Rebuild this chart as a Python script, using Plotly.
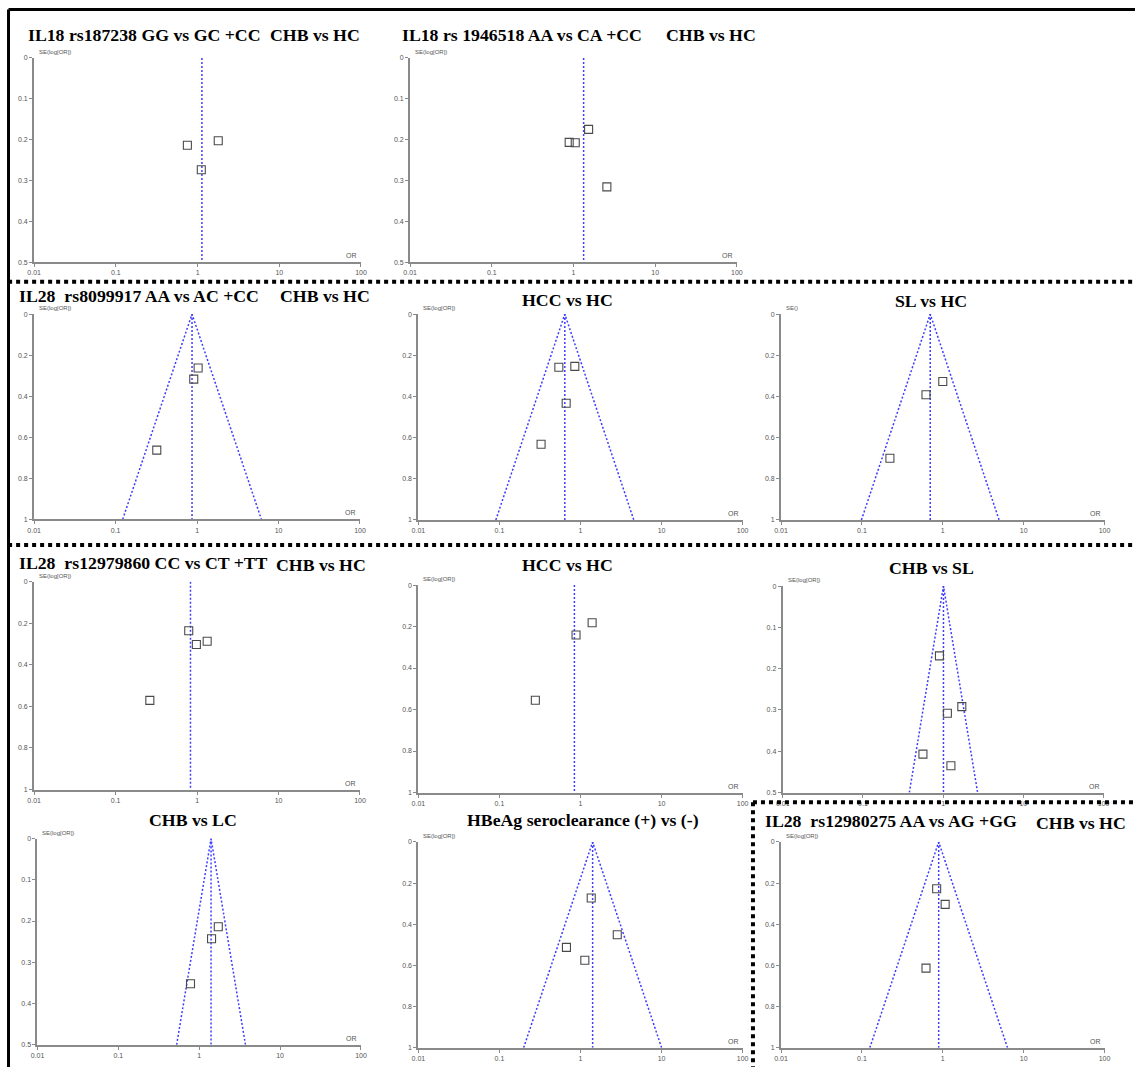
import math
import plotly.graph_objects as go

# The photographed page is the html page scaled down slightly;
# target positions below are given in picture pixels and converted back.
W, H = 1135, 1067
SX = 1135 / 1151
SY = 1067 / 1075
OFFX = 8
OFFY = 4.5

# ---------------- data ----------------
p1_or = [0.75, 1.79, 1.11]
p1_se = [0.214, 0.203, 0.274]
p1_pooled = 1.13

p2_or = [0.885, 1.05, 1.53, 2.56]
p2_se = [0.207, 0.208, 0.175, 0.316]
p2_pooled = 1.33

p3_or = [1.03, 0.91, 0.32]
p3_se = [0.263, 0.317, 0.663]
p3_pooled = 0.867

p4_or = [0.54, 0.85, 0.665, 0.326]
p4_se = [0.258, 0.254, 0.433, 0.632]
p4_pooled = 0.64

p5_or = [1.0, 0.62, 0.222]
p5_se = [0.327, 0.392, 0.70]
p5_pooled = 0.70

p6_or = [0.79, 0.98, 1.33, 0.263]
p6_se = [0.236, 0.302, 0.286, 0.571]
p6_pooled = 0.83

p7_or = [0.88, 1.39, 0.277]
p7_se = [0.241, 0.182, 0.555]
p7_pooled = 0.84

p8_or = [0.90, 1.71, 1.13, 0.56, 1.25]
p8_se = [0.169, 0.292, 0.308, 0.407, 0.435]
p8_pooled = 1.01

p9_or = [1.72, 1.42, 0.78]
p9_se = [0.214, 0.243, 0.352]
p9_pooled = 1.40

p10_or = [1.355, 2.84, 0.67, 1.13]
p10_se = [0.272, 0.451, 0.512, 0.575]
p10_pooled = 1.41

p11_or = [0.84, 1.07, 0.62]
p11_se = [0.227, 0.303, 0.613]
p11_pooled = 0.89

x_tick_vals = [0.01, 0.1, 1, 10, 100]
x_tick_text = ["0.01", "0.1", "1", "10", "100"]
y_ticks_half = [0, 0.1, 0.2, 0.3, 0.4, 0.5]
y_ticks_full = [0, 0.2, 0.4, 0.6, 0.8, 1]

se_max = [0.5, 0.5, 1, 1, 1, 1, 1, 0.5, 0.5, 1, 1]
has_funnel = [False, False, True, True, True, False, False, True, True, True, True]
y_titles = ["SE(log[OR])"] * 4 + ["SE()"] + ["SE(log[OR])"] * 6

# ---------------- layout (picture-pixel boxes of each panel) ----------------
boxes = [
    (35, 361, 58.3, 262.3),
    (410, 736, 58.3, 262.3),
    (35, 360, 314.3, 519.3),
    (418.3, 741.7, 314.3, 520),
    (780, 1102.7, 314.3, 520),
    (35, 360, 581.7, 789.3),
    (418.3, 741.7, 585, 792.3),
    (781.7, 1101.7, 586, 792.3),
    (38.3, 361, 838.3, 1044.3),
    (418.3, 741.7, 841.7, 1047.3),
    (780, 1102.7, 841.7, 1047.3),
]

ors = [p1_or, p2_or, p3_or, p4_or, p5_or, p6_or, p7_or, p8_or, p9_or, p10_or, p11_or]
ses = [p1_se, p2_se, p3_se, p4_se, p5_se, p6_se, p7_se, p8_se, p9_se, p10_se, p11_se]
pooled = [p1_pooled, p2_pooled, p3_pooled, p4_pooled, p5_pooled, p6_pooled,
          p7_pooled, p8_pooled, p9_pooled, p10_pooled, p11_pooled]


def px(x):
    return (x / SX - OFFX) / W


def py(y):
    return 1 - (y / SY - OFFY) / H


fig = go.Figure()
BLUE = "#3d3dff"
annotations = []

for i in range(11):
    n = "" if i == 0 else str(i + 1)
    xa, ya = "x" + n, "y" + n
    x0, x1, y0, y1 = boxes[i]
    m = se_max[i]
    p = pooled[i]
    # pooled estimate line
    fig.add_trace(go.Scatter(x=[p, p], y=[0, m], mode="lines",
                             line=dict(color=BLUE, width=1.5, dash="2px,2px"),
                             xaxis=xa, yaxis=ya, showlegend=False, hoverinfo="skip"))
    if has_funnel[i]:
        lo = p * math.exp(-1.96 * m)
        hi = p * math.exp(1.96 * m)
        fig.add_trace(go.Scatter(x=[lo, p, hi], y=[m, 0, m], mode="lines",
                                 line=dict(color=BLUE, width=1.5, dash="2px,2px"),
                                 xaxis=xa, yaxis=ya, showlegend=False, hoverinfo="skip"))
    fig.add_trace(go.Scatter(x=ors[i], y=ses[i], mode="markers",
                             marker=dict(symbol="square-open", size=8, color="#4a4a4a",
                                         line=dict(width=1.1, color="#4a4a4a")),
                             xaxis=xa, yaxis=ya, showlegend=False))
    axis_common = dict(showgrid=False, zeroline=False, showline=True, linecolor="#8a8a8a",
                       linewidth=2, ticks="outside", ticklen=3, tickwidth=1,
                       tickcolor="#8a8a8a", tickfont=dict(size=7, color="#555555",
                                                          family="Liberation Sans"))
    yt = y_ticks_half if m == 0.5 else y_ticks_full
    fig.layout["xaxis" + n] = dict(type="log", range=[-2, 2], domain=[px(x0), px(x1)],
                                   anchor=ya, tickvals=x_tick_vals, ticktext=x_tick_text,
                                   **axis_common)
    fig.layout["yaxis" + n] = dict(range=[m, 0], autorange=False,
                                   domain=[py(y1), py(y0)], anchor=xa,
                                   tickvals=yt, ticktext=[("%g" % v) for v in yt],
                                   **axis_common)
    annotations.append(dict(text=y_titles[i], xref=xa + " domain", yref=ya + " domain",
                            x=0, y=1, xshift=3, yshift=1, xanchor="left", yanchor="bottom",
                            showarrow=False, font=dict(size=6, color="#555555",
                                                       family="Liberation Sans")))
    annotations.append(dict(text="OR", xref=xa + " domain", yref=ya + " domain",
                            x=1, y=0, xshift=-2, yshift=1, xanchor="right", yanchor="bottom",
                            showarrow=False, font=dict(size=7, color="#555555",
                                                       family="Liberation Sans")))

# ---------------- titles ----------------
TF = dict(family="Liberation Serif", size=17.75, color="black")
# (text, x picture-px, y picture-px, anchor)
titles = [
    ("IL18 rs187238 GG vs GC +CC", 27, 35, "left"),
    ("CHB vs HC", 362, 35, "right"),
    ("IL18 rs 1946518 AA vs CA +CC", 400, 35, "left"),
    ("CHB vs HC", 757, 35, "right"),
    ("IL28  rs8099917 AA vs AC +CC", 18, 296, "left"),
    ("CHB vs HC", 372, 296, "right"),
    ("HCC vs HC", 567, 300, "center"),
    ("SL vs HC", 930, 301, "center"),
    ("IL28  rs12979860 CC vs CT +TT", 18, 563, "left"),
    ("CHB vs HC", 368, 565, "right"),
    ("HCC vs HC", 567, 565, "center"),
    ("CHB vs SL", 930, 568, "center"),
    ("CHB vs LC", 193, 820, "center"),
    ("HBeAg seroclearance (+) vs (-)", 582, 820, "center"),
    ("IL28  rs12980275 AA vs AG +GG", 762, 821, "left"),
    ("CHB vs HC", 1126, 823, "right"),
]
for t, x, y, a in titles:
    annotations.append(dict(text="<b>" + t + "</b>", xref="paper", yref="paper",
                            x=px(x), y=py(y), xanchor=a, yanchor="middle",
                            showarrow=False, font=TF))

# ---------------- frame lines ----------------
shapes = []


def seg(xa_, ya_, xb, yb, width, dash):
    shapes.append(dict(type="line", xref="paper", yref="paper",
                       x0=px(xa_), y0=py(ya_), x1=px(xb), y1=py(yb),
                       line=dict(color="black", width=width, dash=dash)))


seg(9.4, 10, 1135, 10, 3, "solid")
seg(9.4, 10, 9.4, 1067, 3, "solid")
seg(9, 282, 1135, 282, 4, "4px,4px")
seg(9, 545, 1135, 545, 4, "4px,4px")
seg(752, 802, 1135, 802, 4, "4px,4px")
seg(752, 802, 752, 1067, 4, "4px,4px")

fig.update_layout(width=W, height=H, margin=dict(l=0, r=0, t=0, b=0),
                  paper_bgcolor="white", plot_bgcolor="white",
                  annotations=annotations, shapes=shapes, showlegend=False)

fig.write_html("out.html")
